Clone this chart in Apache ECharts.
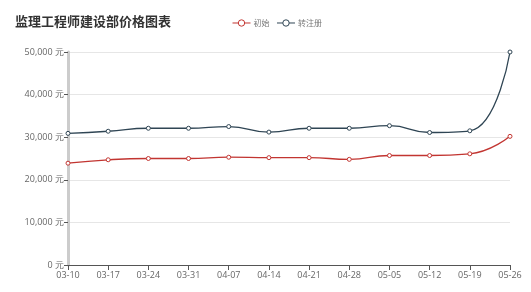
<!DOCTYPE html>
<html><head><meta charset="utf-8">
<script src="https://cdn.jsdelivr.net/npm/echarts@6/dist/echarts.min.js"></script>
<style>html,body{margin:0;padding:0;background:#fff}#c{width:531px;height:292px}</style>
</head><body><div id="c"></div>
<script>
var categories = ['03-10','03-17','03-24','03-31','04-07','04-14','04-21','04-28','05-05','05-12','05-19','05-26'];
var initialValues = [23900,24700,25000,25000,25300,25200,25200,24800,25700,25700,26100,30200];
var transferValues = [30900,31400,32100,32100,32500,31200,32100,32100,32700,31100,31500,50000];
var seriesNames = ['初始','转注册'];
var colors = ['#c23531','#2f4554'];
var titleText = '监理工程师建设部价格图表';

var chart = echarts.init(document.getElementById('c'));
function mk(i, data){
  return {name:seriesNames[i],type:'line',smooth:true,data:data,symbol:'circle',symbolSize:4,
    itemStyle:{color:'#fff',borderColor:colors[i],borderWidth:1},
    lineStyle:{width:1.3,color:colors[i]}};
}
chart.setOption({
  animation:false,
  color:colors,
  title:{text:titleText,left:10,top:10,textStyle:{fontSize:13,fontWeight:'bold',color:'#333',fontFamily:'Noto Sans CJK SC'}},
  legend:{data:seriesNames.map(function(n,i){return {name:n,itemStyle:{color:'#fff',borderColor:colors[i],borderWidth:1},lineStyle:{color:colors[i],width:1}};}),
    left:227,top:14,itemWidth:18,itemHeight:8,itemGap:7,
    textStyle:{fontSize:8,color:'#777',fontFamily:'Noto Sans CJK SC',padding:[0,0,0,-2]}},
  grid:{left:68,right:21,top:52,bottom:27,containLabel:false},
  xAxis:{type:'category',data:categories,boundaryGap:false,
    axisLine:{lineStyle:{color:'#555',width:1}},
    axisTick:{lineStyle:{color:'#555'}},
    axisLabel:{fontSize:9,color:'#666',margin:6,interval:0,fontFamily:'Open Sans'}},
  yAxis:{type:'value',min:0,max:50000,interval:10000,
    axisLine:{show:true,lineStyle:{color:'#ccc',width:3}},
    axisTick:{show:true,length:4,lineStyle:{color:'#555'}},
    splitLine:{lineStyle:{color:'#e6e6e6'}},
    axisLabel:{fontSize:9,color:'#666',margin:4,fontFamily:'Open Sans',formatter:function(v){return v.toLocaleString('en-US')+' 元';}}},
  series:[mk(0, initialValues), mk(1, transferValues)]
});
</script></body></html>
